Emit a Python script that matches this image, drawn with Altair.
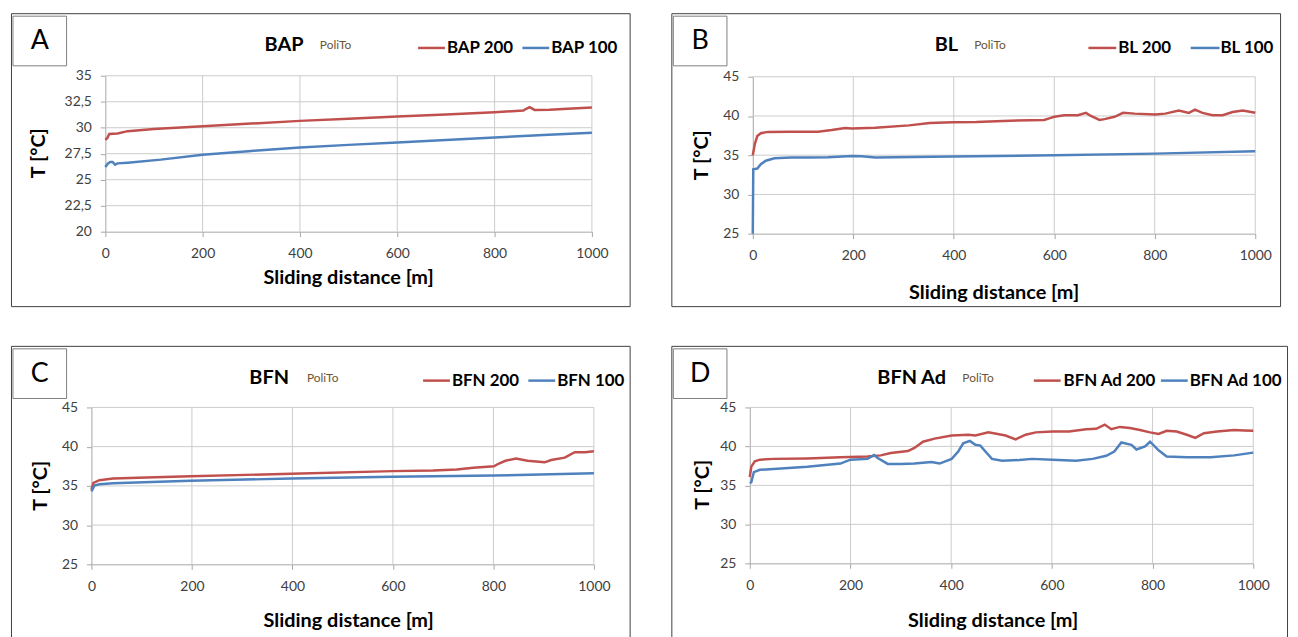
import altair as alt
import pandas as pd

# ---------------- data ----------------
X_TICKS = [0, 200, 400, 600, 800, 1000]
A_Y_TICKS = [20, 22.5, 25, 27.5, 30, 32.5, 35]
BCD_Y_TICKS = [25, 30, 35, 40, 45]

BAP200_X = [0, 4, 8, 25, 46, 100, 200, 300, 400, 500, 600, 700, 800, 859, 866, 872, 882, 913, 950, 1000]
BAP200_Y = [28.84, 29.0, 29.4, 29.45, 29.67, 29.88, 30.15, 30.4, 30.66, 30.86, 31.07, 31.28, 31.49, 31.65, 31.85, 31.97, 31.71, 31.74, 31.82, 31.94]
BAP100_X = [0, 5, 10, 15, 20, 25, 46, 114, 200, 300, 400, 500, 600, 700, 800, 900, 1000]
BAP100_Y = [26.22, 26.54, 26.70, 26.70, 26.45, 26.57, 26.64, 26.93, 27.4, 27.77, 28.1, 28.35, 28.58, 28.83, 29.06, 29.29, 29.51]

BL200_X = [0, 4, 9, 16, 30, 76, 130, 157, 184, 197, 244, 311, 352, 398, 445, 512, 580, 590, 600, 620, 647, 663, 673, 690, 700, 720, 737, 760, 801, 821, 848, 868, 880, 895, 915, 935, 955, 975, 1000]
BL200_Y = [35.0, 36.4, 37.46, 37.8, 37.97, 38.0, 38.0, 38.2, 38.47, 38.4, 38.5, 38.8, 39.1, 39.2, 39.24, 39.4, 39.5, 39.7, 39.9, 40.1, 40.1, 40.4, 40.0, 39.5, 39.6, 39.9, 40.4, 40.3, 40.2, 40.3, 40.7, 40.4, 40.8, 40.4, 40.1, 40.1, 40.5, 40.7, 40.4]
BL100_X = [0, 1, 9, 16, 26, 43, 76, 110, 150, 197, 217, 244, 398, 600, 801, 1000]
BL100_Y = [25.0, 33.2, 33.3, 33.85, 34.3, 34.6, 34.7, 34.7, 34.75, 34.9, 34.87, 34.7, 34.83, 35.0, 35.2, 35.5]

BFN200_X = [0, 4, 16, 43, 110, 197, 398, 600, 680, 727, 760, 801, 811, 824, 845, 868, 902, 915, 942, 962, 982, 1000]
BFN200_Y = [34.53, 35.38, 35.72, 35.94, 36.07, 36.24, 36.54, 36.88, 36.96, 37.1, 37.3, 37.5, 37.85, 38.2, 38.5, 38.2, 38.0, 38.3, 38.6, 39.3, 39.3, 39.4]
BFN100_X = [0, 6, 16, 43, 197, 398, 600, 801, 1000]
BFN100_Y = [34.3, 35.04, 35.2, 35.34, 35.64, 35.94, 36.15, 36.32, 36.6]

BFNAD200_X = [0, 3, 10, 20, 47, 114, 180, 234, 260, 280, 314, 327, 344, 367, 401, 434, 448, 474, 508, 528, 548, 568, 601, 634, 668, 688, 705, 718, 735, 755, 775, 795, 812, 828, 848, 868, 885, 902, 928, 962, 982, 1000]
BFNAD200_Y = [36.07, 37.4, 38.1, 38.3, 38.4, 38.46, 38.6, 38.7, 38.85, 39.15, 39.4, 39.8, 40.6, 41.0, 41.4, 41.5, 41.4, 41.8, 41.4, 40.9, 41.5, 41.8, 41.9, 41.9, 42.2, 42.25, 42.8, 42.2, 42.5, 42.35, 42.1, 41.8, 41.6, 42.0, 41.9, 41.5, 41.1, 41.7, 41.9, 42.1, 42.05, 42.0]
BFNAD100_X = [0, 3, 8, 20, 47, 114, 180, 200, 234, 247, 254, 274, 300, 327, 361, 377, 401, 414, 424, 437, 448, 458, 468, 481, 501, 535, 561, 601, 648, 681, 708, 724, 738, 758, 768, 785, 795, 812, 828, 868, 915, 962, 1000]
BFNAD100_Y = [35.3, 35.4, 36.7, 37.0, 37.1, 37.4, 37.8, 38.3, 38.4, 38.9, 38.5, 37.75, 37.75, 37.8, 38.0, 37.8, 38.4, 39.35, 40.4, 40.7, 40.2, 40.1, 39.35, 38.4, 38.15, 38.25, 38.4, 38.3, 38.15, 38.4, 38.8, 39.35, 40.5, 40.2, 39.6, 40.0, 40.6, 39.5, 38.7, 38.6, 38.6, 38.85, 39.2]

# ---------------- styles ----------------
RED = "#c0504d"
BLUE = "#4f81bd"
GRID = "#cccccc"
AXIS = "#a6a6a6"
LABEL = "#404040"
FONT = "Lato"
POLITO = "#6b5535"

PANELS = [
    dict(letter="A", title="BAP", names=["BAP 200", "BAP 100"],
         series=[(BAP200_X, BAP200_Y), (BAP100_X, BAP100_Y)], yt=A_Y_TICKS, comma=True,
         w=623, h=295, xr=[95, 585], yr=[220, 63],
         tx=275, px=311, leg=(410, 437, 439, 515, 542, 544), yt_pos=(28, 141), xt_pos=(340, 267)),
    dict(letter="B", title="BL", names=["BL 200", "BL 100"],
         series=[(BL200_X, BL200_Y), (BL100_X, BL100_Y)], yt=BCD_Y_TICKS, comma=False,
         w=613, h=295, xr=[82, 588], yr=[222, 64],
         tx=277, px=305, leg=(420, 448, 450, 523, 552, 553), yt_pos=(31, 143), xt_pos=(325, 282)),
    dict(letter="C", title="BFN", names=["BFN 200", "BFN 100"],
         series=[(BFN200_X, BFN200_Y), (BFN100_X, BFN100_Y)], yt=BCD_Y_TICKS, comma=False,
         w=623, h=295, xr=[81, 587], yr=[220, 62],
         tx=260, px=298, leg=(415, 442, 444, 521, 548, 550), yt_pos=(30, 141), xt_pos=(340, 277)),
    dict(letter="D", title="BFN Ad", names=["BFN Ad 200", "BFN Ad 100"],
         series=[(BFNAD200_X, BFNAD200_Y), (BFNAD100_X, BFNAD100_Y)], yt=BCD_Y_TICKS, comma=False,
         w=620, h=295, xr=[79, 586], yr=[219, 62],
         tx=242, px=293, leg=(365, 392, 395, 493, 520, 522), yt_pos=(32, 140), xt_pos=(324, 277)),
]

DUMMY = alt.InlineData(values=[{"d": 0}])


def text_layer(txt, x, y, size, weight="normal", color="black", align="left", baseline="alphabetic", angle=0):
    kw = dict(text=txt, font=FONT, fontSize=size, fontWeight=weight, color=color, align=align, baseline=baseline)
    if angle:
        kw["angle"] = angle
    return alt.Chart(DUMMY).mark_text(**kw).encode(x=alt.value(x), y=alt.value(y))


def panel(p):
    w, h, xr, yr = p["w"], p["h"], p["xr"], p["yr"]
    xs = alt.Scale(domain=[0, 1000], range=xr, nice=False, zero=False)
    ys = alt.Scale(domain=[p["yt"][0], p["yt"][-1]], range=yr, nice=False, zero=False)
    common = dict(grid=False, title=None, domainColor=AXIS, tickColor=AXIS, tickSize=5,
                  labelColor=LABEL, labelFont=FONT, labelFontSize=14, labelFlush=False,
                  labelOverlap=False)
    xaxis = alt.Axis(orient="bottom", offset=-(h - yr[0]), values=X_TICKS, labelPadding=10,
                     format="d", **common)
    ykw = dict(orient="left", offset=-xr[0], values=p["yt"], labelPadding=9, **common)
    if p["comma"]:
        ykw["labelExpr"] = "replace(format(datum.value, '~g'), '.', ',')"
    yaxis = alt.Axis(**ykw)

    def X(f):
        return alt.X(f, type="quantitative", scale=xs, axis=xaxis)

    def Y(f):
        return alt.Y(f, type="quantitative", scale=ys, axis=yaxis)

    hg = pd.DataFrame({"y": p["yt"][1:]})
    hg["x"] = X_TICKS[0]
    hg["x2"] = X_TICKS[-1]
    vg = pd.DataFrame({"x": X_TICKS[1:]})
    vg["y"] = p["yt"][0]
    vg["y2"] = p["yt"][-1]

    rows = []
    for name, (sx, sy) in zip(p["names"], p["series"]):
        for a, b in zip(sx, sy):
            rows.append({"series": name, "x": a, "y": b})
    df = pd.DataFrame(rows)

    hgrid = alt.Chart(hg).mark_rule(color=GRID, strokeWidth=1).encode(x=X("x"), x2="x2", y=Y("y"))
    vgrid = alt.Chart(vg).mark_rule(color=GRID, strokeWidth=1).encode(x=X("x"), y=Y("y"), y2="y2")
    lines = alt.Chart(df).mark_line(strokeWidth=2.5).encode(
        x=X("x"), y=Y("y"),
        color=alt.Color("series:N", scale=alt.Scale(domain=p["names"], range=[RED, BLUE]), legend=None),
    )

    box = alt.Chart(DUMMY).mark_rect(fill="white", stroke="#7f7f7f", strokeWidth=1).encode(
        x=alt.value(2), x2=alt.value(56), y=alt.value(3), y2=alt.value(53))
    l = p["leg"]
    leg_red = alt.Chart(DUMMY).mark_rule(color=RED, strokeWidth=2.5).encode(
        x=alt.value(l[0]), x2=alt.value(l[1]), y=alt.value(35))
    leg_blue = alt.Chart(DUMMY).mark_rule(color=BLUE, strokeWidth=2.5).encode(
        x=alt.value(l[3]), x2=alt.value(l[4]), y=alt.value(35))

    layers = [
        hgrid, vgrid, lines, box,
        text_layer(p["letter"], 29, 28, 27, align="center", baseline="middle"),
        text_layer(p["title"], p["tx"], 38, 20, weight="bold", align="center"),
        text_layer("PoliTo", p["px"], 36, 12, color=POLITO),
        leg_red, leg_blue,
        text_layer(p["names"][0], l[2], 35, 17, weight="bold", baseline="middle"),
        text_layer(p["names"][1], l[5], 35, 17, weight="bold", baseline="middle"),
        text_layer("T [°C]", p["yt_pos"][0], p["yt_pos"][1], 20, weight="bold",
                   align="center", baseline="middle", angle=270),
        text_layer("Sliding distance [m]", p["xt_pos"][0], p["xt_pos"][1], 20, weight="bold",
                   align="center", baseline="middle"),
    ]
    return alt.layer(*layers).properties(width=w, height=h)


charts = [panel(p) for p in PANELS]
chart = (
    alt.concat(*charts, columns=2, spacing={"row": 40, "column": 42}, bounds="flush")
    .properties(padding=2, background="white")
    .configure_view(stroke="#404040", strokeWidth=1, fill="white")
)

chart.save("out.html", embed_options={"renderer": "svg", "actions": False})
